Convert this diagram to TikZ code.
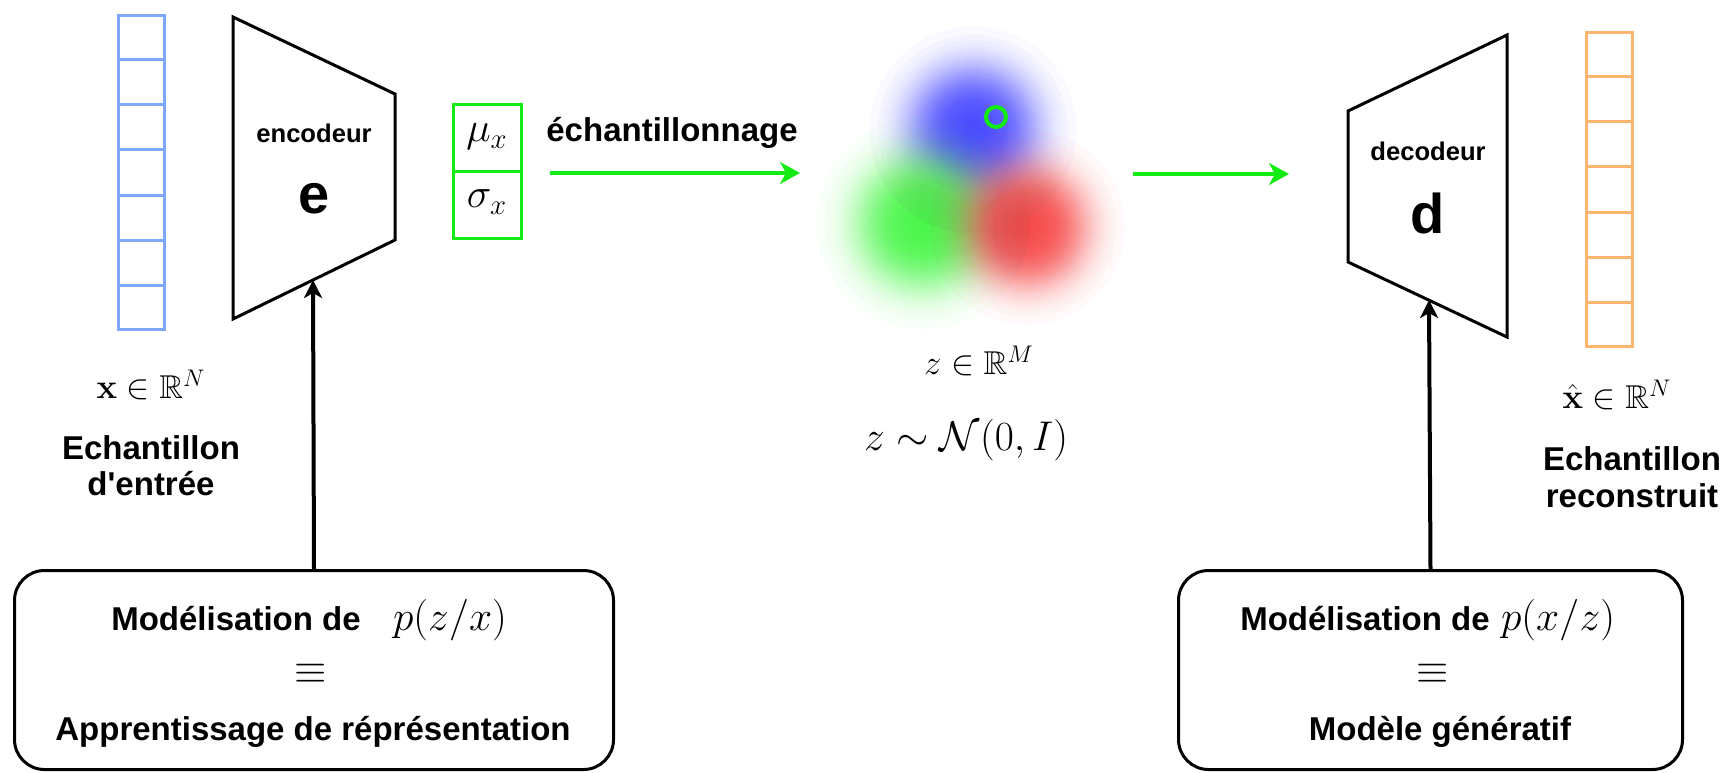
\documentclass[tikz,border=0pt]{standalone}
\usepackage{amsmath,amssymb}
\usepackage{graphicx}
\usepackage[no-math]{fontspec}
\setmainfont{Liberation Sans}
\usetikzlibrary{arrows.meta,calc}
\definecolor{vblue}{RGB}{126,166,250}
\definecolor{vorange}{RGB}{255,181,112}
\definecolor{vgreen}{RGB}{20,235,20}
\definecolor{bblue}{RGB}{60,60,255}
\definecolor{bgreen}{RGB}{60,245,60}
\definecolor{bred}{RGB}{245,60,60}
\tikzset{
  trap/.style={draw=black, line width=1.5pt, line join=miter},
  vecbox/.style={line width=1.5pt, minimum width=23pt, minimum height=157pt, inner sep=0pt, anchor=north west},
  roundbox/.style={draw=black, line width=1.5pt, rounded corners=15pt, inner sep=0pt, minimum height=99.5pt, anchor=north west},
  barrow/.style={draw=black, line width=2pt, -{Stealth[length=9pt,width=9pt,inset=2.5pt]}},
  garrow/.style={draw=vgreen, line width=2pt, -{Stealth[length=10pt,width=11pt,inset=3pt]}},
  btxt/.style={font=\fontsize{16.5}{20}\selectfont\bfseries, anchor=base, inner sep=0pt},
  smalltxt/.style={font=\fontsize{12.8}{15}\selectfont\bfseries, anchor=base, inner sep=0pt},
  bigtxt/.style={font=\fontsize{28}{32}\selectfont\bfseries, anchor=base, inner sep=0pt},
  mtxt/.style={font=\fontsize{16.5}{20}\selectfont, inner sep=0pt},
  Mtxt/.style={font=\fontsize{20}{24}\selectfont, inner sep=0pt},
  MUtxt/.style={font=\fontsize{22}{26}\selectfont, inner sep=0pt},
}
\newcommand{\gaussblob}[4]{%
  \foreach \k in {1,...,79}{%
    \pgfmathsetmacro\rr{#4*sqrt(2*ln(80/\k))}%
    \fill[#1, opacity=0.03] (#2,#3) circle (\rr);
  }%
}
\begin{document}
\begin{tikzpicture}[x=0.5pt,y=-0.5pt]
\useasboundingbox (0,0) rectangle (1725,772);

% input vector
\node[vecbox, draw=vblue] (vin) at (117,14) {};
\foreach \i in {1,...,6}
  \draw[vblue, line width=1.5pt] ($(vin.north west)!\i/7!(vin.south west)$) -- ($(vin.north east)!\i/7!(vin.south east)$);

% encoder
\draw[trap] (233,17) -- (395,94) -- (395,240) -- (233,319) -- cycle;
\coordinate (encbot) at (313,280);
\node[smalltxt] (enc) at (314,142) {encodeur};
\node[bigtxt] (e) at (314,213) {e};

% mu sigma
\node[draw=vgreen, line width=1.5pt, minimum width=34pt, minimum height=67pt, inner sep=0pt, anchor=north west] (musig) at (452,103) {};
\draw[vgreen, line width=1.5pt] (musig.west) -- (musig.east);
\node[MUtxt] (mu) at (487,137) {$\mu_x$};
\node[MUtxt] (sigma) at (487,202) {$\sigma_x$};

% sampling arrow
\node[btxt] (ech) at (672,141) {échantillonnage};
\coordinate (g1s) at (550,173);
\coordinate (g1e) at (800,173);
\draw[garrow] (g1s) -- (g1e);

% latent blobs
\gaussblob{bblue}{973}{130}{35}
\gaussblob{bgreen}{923}{223}{36}
\gaussblob{bred}{1027}{227}{33}
\node[circle, draw=vgreen, line width=2pt, minimum size=10pt, inner sep=0pt] (ring) at (996,117) {};

\node[mtxt] (zin) at (979,361) {$z \in \mathbb{R}^M$};
\node[Mtxt] (zdist) at (966,440) {$z \sim \mathcal{N}(0,I)$};

% second arrow
\coordinate (g2s) at (1133,174);
\coordinate (g2e) at (1289,174);
\draw[garrow] (g2s) -- (g2e);

% decoder
\draw[trap] (1348,111) -- (1507,35) -- (1507,337) -- (1348,262) -- cycle;
\coordinate (decbot) at (1429,300);
\node[smalltxt] (dec) at (1428,160) {decodeur};
\node[bigtxt] (d) at (1428,233) {d};

% output vector
\node[vecbox, draw=vorange] (vout) at (1585,31) {};
\foreach \i in {1,...,6}
  \draw[vorange, line width=1.5pt] ($(vout.north west)!\i/7!(vout.south west)$) -- ($(vout.north east)!\i/7!(vout.south east)$);

% labels
\node[mtxt] (xin) at (151,385) {$\mathbf{x} \in \mathbb{R}^N$};
\node[btxt] (l1a) at (151,459) {Echantillon};
\node[btxt] (l1b) at (151,495) {d\textquotesingle entrée};
\node[mtxt] (xout) at (1617,395) {$\hat{\mathbf{x}} \in \mathbb{R}^N$};
\node[btxt] (l2a) at (1632,470) {Echantillon};
\node[btxt] (l2b) at (1632,507) {reconstruit};

% bottom boxes
\node[roundbox, minimum width=299.5pt] (boxL) at (13,569) {};
\node[btxt] (bl1) at (236,630) {Modélisation de};
\node[Mtxt, anchor=base] (bl1m) at (450,630) {$p(z/x)$};
\node[Mtxt] (bl2) at (311,674) {$\equiv$};
\node[btxt] (bl3) at (313,740) {Apprentissage de réprésentation};

\node[roundbox, minimum width=252pt] (boxR) at (1177,569) {};
\node[btxt] (br1) at (1365,630) {Modélisation de};
\node[Mtxt, anchor=base] (br1m) at (1558,630) {$p(x/z)$};
\node[Mtxt] (br2) at (1433,674) {$\equiv$};
\node[btxt] (br3) at (1440,740) {Modèle génératif};

% connectors
\draw[barrow] (boxL.north) -- (encbot);
\draw[barrow] (boxR.north) -- (decbot);
\end{tikzpicture}
\end{document}
